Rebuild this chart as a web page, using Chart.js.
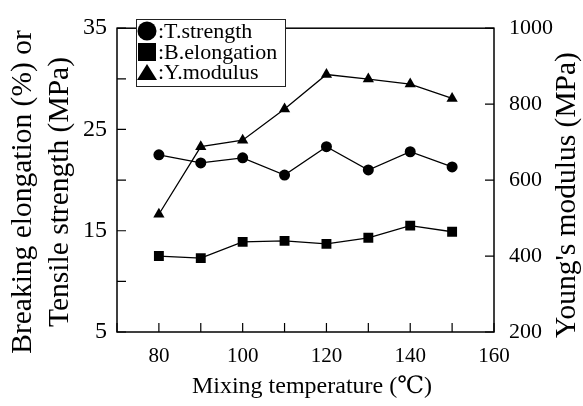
<!DOCTYPE html>
<html>
<head>
<meta charset="utf-8">
<script src="https://cdn.jsdelivr.net/npm/chart.js@4"></script>
<style>
  html, body { margin: 0; padding: 0; background: #fff; }
  #wrap { width: 583px; height: 406px; }
</style>
</head>
<body>
<div id="wrap"><canvas id="chart" width="583" height="406"></canvas></div>
<script>
// data
const temps = [80, 90, 100, 110, 120, 130, 140, 150];
const tensileStrength = [22.5, 21.7, 22.2, 20.5, 23.3, 21.0, 22.8, 21.3];
const breakElongation = [12.5, 12.3, 13.9, 14.0, 13.7, 14.3, 15.5, 14.9];
const youngsModulus = [510, 688, 705, 787, 878, 866, 853, 815];

const leftTickLabels = [5, 15, 25, 35];
const rightTickLabels = [200, 400, 600, 800, 1000];
const xTickLabels = [80, 100, 120, 140, 160];

const serif = "'Liberation Serif', 'DejaVu Serif', serif";

function points(ys) {
    return temps.map((t, i) => ({ x: t, y: ys[i] }));
}

function rotatedText(ctx, text, x, y) {
    ctx.save();
    ctx.translate(x, y);
    ctx.rotate(-Math.PI / 2);
    ctx.fillText(text, 0, 0);
    ctx.restore();
}

// frame, inward ticks, legend box and axis titles
const decorations = {
    id: 'decorations',
    afterDraw(chart) {
        const ctx = chart.ctx;
        const a = chart.chartArea;
        ctx.save();
        ctx.strokeStyle = '#000';
        ctx.lineWidth = 1.5;
        ctx.strokeRect(a.left, a.top, a.right - a.left, a.bottom - a.top);

        ctx.lineWidth = 1.2;
        ctx.beginPath();
        chart.scales.x.ticks.forEach(t => {
            const px = chart.scales.x.getPixelForValue(t.value);
            ctx.moveTo(px, a.bottom);
            ctx.lineTo(px, a.bottom - 9);
        });
        chart.scales.y.ticks.forEach(t => {
            const py = chart.scales.y.getPixelForValue(t.value);
            ctx.moveTo(a.left, py);
            ctx.lineTo(a.left + 9, py);
        });
        chart.scales.y2.ticks.forEach(t => {
            const py = chart.scales.y2.getPixelForValue(t.value);
            ctx.moveTo(a.right, py);
            ctx.lineTo(a.right - 9, py);
        });
        ctx.stroke();

        // legend
        ctx.fillStyle = '#fff';
        ctx.fillRect(136, 19, 149, 67);
        ctx.lineWidth = 1;
        ctx.strokeStyle = '#222';
        ctx.strokeRect(136.5, 19.5, 149, 67);
        ctx.fillStyle = '#000';
        ctx.beginPath();
        ctx.arc(147, 31, 9.5, 0, Math.PI * 2);
        ctx.fill();
        ctx.fillRect(138, 43, 18, 18);
        ctx.beginPath();
        ctx.moveTo(147, 64);
        ctx.lineTo(157, 80);
        ctx.lineTo(137, 80);
        ctx.closePath();
        ctx.fill();
        ctx.font = '22px ' + serif;
        ctx.textBaseline = 'middle';
        ctx.textAlign = 'left';
        ctx.fillText(':T.strength', 158, 32);
        ctx.fillText(':B.elongation', 158, 53);
        ctx.fillText(':Y.modulus', 158, 73);

        // axis titles
        ctx.font = '24px ' + serif;
        ctx.textAlign = 'center';
        ctx.fillText('Mixing temperature (\u2103)', 312, 387);
        ctx.font = '29.5px ' + serif;
        rotatedText(ctx, 'Breaking elongation (%) or', 23, 192);
        rotatedText(ctx, 'Tensile strength (MPa)', 60, 192);
        rotatedText(ctx, "Young's modulus (MPa)", 567, 195);
        ctx.restore();
    }
};

const lineStyle = {
    borderColor: '#000',
    backgroundColor: '#000',
    borderWidth: 1.3,
    pointBorderWidth: 0,
    fill: false,
    tension: 0
};

new Chart(document.getElementById('chart').getContext('2d'), {
    type: 'line',
    data: {
        datasets: [{
            ...lineStyle,
            label: 'T.strength',
            data: points(tensileStrength),
            yAxisID: 'y',
            pointStyle: 'circle',
            pointRadius: 5.5
        }, {
            ...lineStyle,
            label: 'B.elongation',
            data: points(breakElongation),
            yAxisID: 'y',
            pointStyle: 'rect',
            pointRadius: 7
        }, {
            ...lineStyle,
            label: 'Y.modulus',
            data: points(youngsModulus),
            yAxisID: 'y2',
            pointStyle: 'triangle',
            pointRadius: 6.5
        }]
    },
    options: {
        responsive: false,
        animation: false,
        layout: { padding: { top: 16, right: 0, bottom: 0, left: 0 } },
        plugins: {
            legend: { display: false },
            tooltip: { enabled: false }
        },
        scales: {
            x: {
                type: 'linear',
                min: 70,
                max: 160,
                afterFit: s => { s.height = 74; },
                grid: { display: false, drawTicks: false },
                border: { display: false },
                ticks: {
                    stepSize: 10,
                    padding: 12,
                    color: '#000',
                    font: { family: serif, size: 21 },
                    maxRotation: 0,
                    autoSkip: false,
                    callback: v => xTickLabels.includes(v) ? String(v) : ''
                }
            },
            y: {
                position: 'left',
                min: 5,
                max: 35,
                afterFit: s => { s.width = 117; },
                grid: { display: false, drawTicks: false },
                border: { display: false },
                ticks: {
                    stepSize: 5,
                    padding: 10,
                    color: '#000',
                    font: { family: serif, size: 24 },
                    callback: v => leftTickLabels.includes(v) ? String(v) : ''
                }
            },
            y2: {
                position: 'right',
                min: 200,
                max: 1000,
                afterFit: s => { s.width = 89; },
                grid: { display: false, drawTicks: false },
                border: { display: false },
                ticks: {
                    stepSize: 200,
                    padding: 15,
                    color: '#000',
                    font: { family: serif, size: 22 },
                    callback: v => rightTickLabels.includes(v) ? String(v) : ''
                }
            }
        }
    },
    plugins: [decorations]
});
</script>
</body>
</html>
